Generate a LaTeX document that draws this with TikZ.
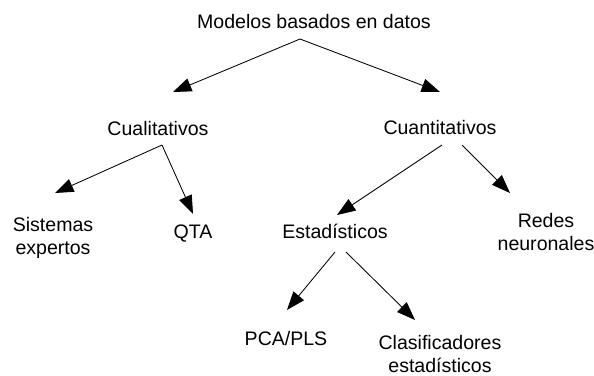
\documentclass[tikz,border=0pt]{standalone}
\usepackage{fontspec}
\setmainfont{Liberation Sans}
\usetikzlibrary{arrows.meta}

\begin{document}
\begin{tikzpicture}[
    x=0.025cm, y=-0.025cm,
    >={Triangle[length=4.6mm, width=3.4mm]},
    mbterm/.style={inner sep=0pt, anchor=base, align=center, font=\fontsize{13.9}{16}\selectfont},
    mbarrow/.style={->, line width=0.6pt}
]
\useasboundingbox (0,0) rectangle (594,376);

\node[mbterm] (modelos) at (314,28) {Modelos basados en datos};
\node[mbterm] (cual) at (158,135) {Cualitativos};
\node[mbterm] (cuan) at (440,134) {Cuantitativos};
\node[mbterm] (sistemas) at (53,254) {Sistemas\\expertos};
\node[mbterm] (qta) at (193,238) {QTA};
\node[mbterm] (estad) at (335,238) {Estadísticos};
\node[mbterm] (redes) at (546,250) {Redes\\neuronales};
\node[mbterm] (pca) at (286,345) {PCA/PLS};
\node[mbterm] (clasif) at (440,372) {Clasificadores\\estadísticos};

\draw[mbarrow] ([shift={(-14,11)}]modelos.base) -- ([shift={(15,-43)}]cual.base);
\draw[mbarrow] ([shift={(-14,11)}]modelos.base) -- ([shift={(0,-42)}]cuan.base);
\draw[mbarrow] ([shift={(4,10)}]cual.base) -- ([shift={(2,-61)}]sistemas.base);
\draw[mbarrow] ([shift={(4,10)}]cual.base) -- ([shift={(0,-24)}]qta.base);
\draw[mbarrow] ([shift={(2,11)}]cuan.base) -- ([shift={(2,-23)}]estad.base);
\draw[mbarrow] ([shift={(22,11)}]cuan.base) -- ([shift={(-36,-57)}]redes.base);
\draw[mbarrow] ([shift={(0,14)}]estad.base) -- ([shift={(1,-35)}]pca.base);
\draw[mbarrow] ([shift={(11,14)}]estad.base) -- ([shift={(-25,-52)}]clasif.base);
\end{tikzpicture}
\end{document}
